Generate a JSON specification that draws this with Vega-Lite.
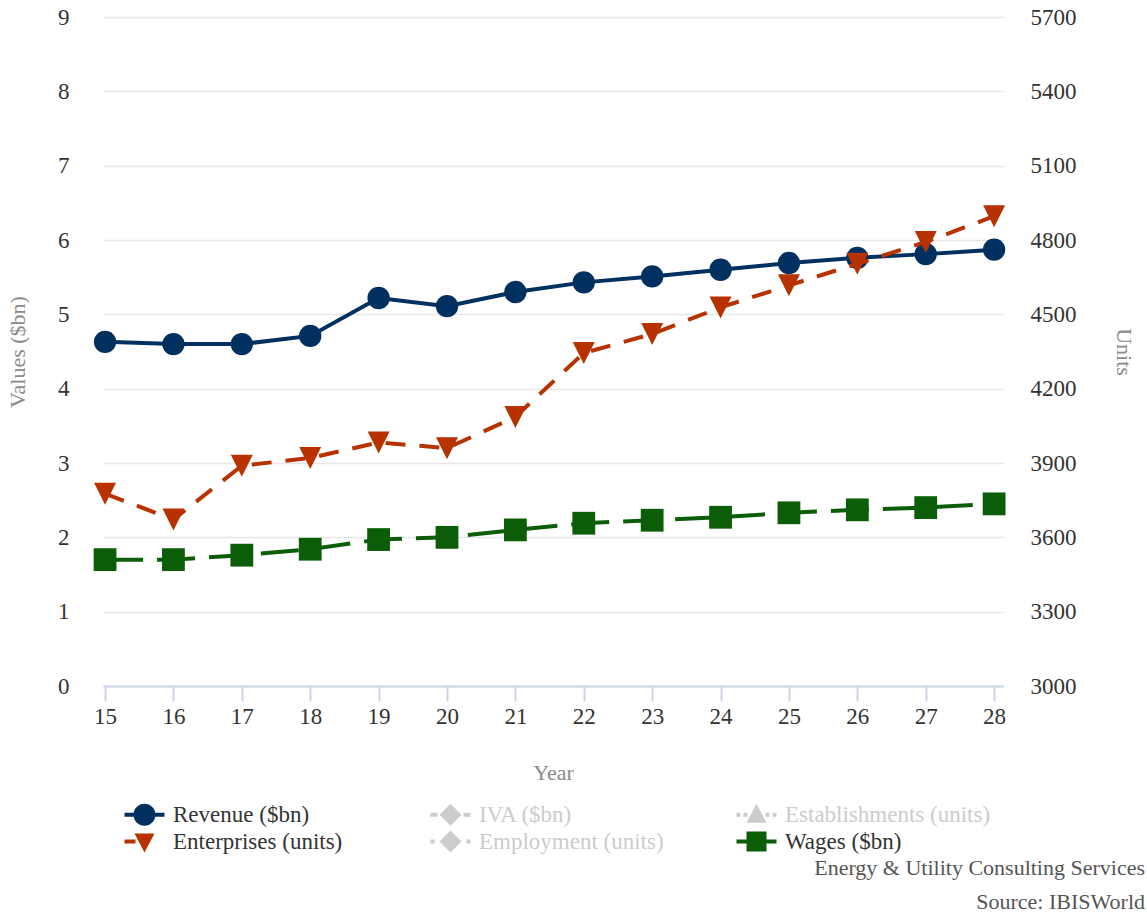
{
  "$schema": "https://vega.github.io/schema/vega-lite/v6.json",
  "width": 900,
  "height": 669,
  "autosize": {"type": "none"},
  "padding": {"left": 103, "top": 17, "right": 144, "bottom": 228},
  "background": "#ffffff",
  "config": {
    "view": {"fill": "#f8f8f8", "stroke": null},
    "font": "Liberation Serif",
    "axis": {"labelFont": "Liberation Serif", "titleFont": "Liberation Serif", "labelFontSize": 23, "titleFontSize": 22, "titleFontWeight": "normal", "labelColor": "#333333", "titleColor": "#8a8a8a"}
  },
  "title": {
    "text": "Energy & Utility Consulting Services",
    "subtitle": "Source: IBISWorld",
    "orient": "bottom",
    "anchor": "end",
    "frame": "group",
    "font": "Liberation Serif",
    "subtitleFont": "Liberation Serif",
    "fontSize": 22,
    "subtitleFontSize": 22,
    "fontWeight": "normal",
    "color": "#555555",
    "subtitleColor": "#555555",
    "subtitlePadding": 12,
    "dx": 142,
    "offset": 4
  },
  "datasets": {
    "main": [
      {"year": 15, "series": "Revenue ($bn)", "value": 4.63},
      {"year": 16, "series": "Revenue ($bn)", "value": 4.60},
      {"year": 17, "series": "Revenue ($bn)", "value": 4.60},
      {"year": 18, "series": "Revenue ($bn)", "value": 4.71},
      {"year": 19, "series": "Revenue ($bn)", "value": 5.22},
      {"year": 20, "series": "Revenue ($bn)", "value": 5.11},
      {"year": 21, "series": "Revenue ($bn)", "value": 5.30},
      {"year": 22, "series": "Revenue ($bn)", "value": 5.43},
      {"year": 23, "series": "Revenue ($bn)", "value": 5.51},
      {"year": 24, "series": "Revenue ($bn)", "value": 5.60},
      {"year": 25, "series": "Revenue ($bn)", "value": 5.69},
      {"year": 26, "series": "Revenue ($bn)", "value": 5.76},
      {"year": 27, "series": "Revenue ($bn)", "value": 5.81},
      {"year": 28, "series": "Revenue ($bn)", "value": 5.87},
      {"year": 15, "series": "Wages ($bn)", "value": 1.70},
      {"year": 16, "series": "Wages ($bn)", "value": 1.70},
      {"year": 17, "series": "Wages ($bn)", "value": 1.76},
      {"year": 18, "series": "Wages ($bn)", "value": 1.84},
      {"year": 19, "series": "Wages ($bn)", "value": 1.97},
      {"year": 20, "series": "Wages ($bn)", "value": 2.00},
      {"year": 21, "series": "Wages ($bn)", "value": 2.10},
      {"year": 22, "series": "Wages ($bn)", "value": 2.19},
      {"year": 23, "series": "Wages ($bn)", "value": 2.23},
      {"year": 24, "series": "Wages ($bn)", "value": 2.27},
      {"year": 25, "series": "Wages ($bn)", "value": 2.33},
      {"year": 26, "series": "Wages ($bn)", "value": 2.37},
      {"year": 27, "series": "Wages ($bn)", "value": 2.40},
      {"year": 28, "series": "Wages ($bn)", "value": 2.45},
      {"year": 15, "series": "Enterprises (units)", "value": 3776},
      {"year": 16, "series": "Enterprises (units)", "value": 3672},
      {"year": 17, "series": "Enterprises (units)", "value": 3889},
      {"year": 18, "series": "Enterprises (units)", "value": 3920},
      {"year": 19, "series": "Enterprises (units)", "value": 3983},
      {"year": 20, "series": "Enterprises (units)", "value": 3960},
      {"year": 21, "series": "Enterprises (units)", "value": 4086},
      {"year": 22, "series": "Enterprises (units)", "value": 4344},
      {"year": 23, "series": "Enterprises (units)", "value": 4421},
      {"year": 24, "series": "Enterprises (units)", "value": 4528},
      {"year": 25, "series": "Enterprises (units)", "value": 4617},
      {"year": 26, "series": "Enterprises (units)", "value": 4704},
      {"year": 27, "series": "Enterprises (units)", "value": 4792},
      {"year": 28, "series": "Enterprises (units)", "value": 4896}
    ],
    "legendItems": [
      {"item": "Revenue ($bn)"},
      {"item": "IVA ($bn)"},
      {"item": "Establishments (units)"},
      {"item": "Enterprises (units)"},
      {"item": "Employment (units)"},
      {"item": "Wages ($bn)"}
    ]
  },
  "layer": [
    {
      "data": {"name": "main"},
      "encoding": {
        "x": {"field": "year", "type": "quantitative", "scale": {"domain": [14.97, 28.13], "nice": false, "zero": false},
          "axis": {"title": "Year", "values": [15,16,17,18,19,20,21,22,23,24,25,26,27,28], "format": "d", "grid": false, "domainColor": "#ccd6eb", "domainWidth": 2, "tickColor": "#ccd6eb", "tickWidth": 2, "tickSize": 15, "labelPadding": 4, "titlePadding": 34}},
        "y": {"field": "value", "type": "quantitative", "scale": {"domain": [0, 9], "nice": false, "zero": false},
          "axis": {"orient": "left", "title": "Values ($bn)", "values": [0,1,2,3,4,5,6,7,8,9], "format": "d", "grid": true, "gridColor": "#e6e6e6", "gridWidth": 1.5, "domain": false, "ticks": false, "labelPadding": 34, "titlePadding": 28}}
      },
      "layer": [
        {"transform": [{"filter": "datum.series == 'Revenue ($bn)'"}], "mark": {"type": "line", "color": "#00305f", "strokeWidth": 4}},
        {"transform": [{"filter": "datum.series == 'Revenue ($bn)'"}], "mark": {"type": "point", "shape": "circle", "filled": true, "size": 500, "color": "#00305f", "opacity": 1}},
        {"transform": [{"filter": "datum.series == 'Wages ($bn)'"}], "mark": {"type": "line", "color": "#0b5e07", "strokeWidth": 4, "strokeDash": [38, 14]}},
        {"transform": [{"filter": "datum.series == 'Wages ($bn)'"}], "mark": {"type": "point", "shape": "square", "filled": true, "size": 520, "color": "#0b5e07", "opacity": 1}}
      ]
    },
    {
      "data": {"name": "main"},
      "transform": [{"filter": "datum.series == 'Enterprises (units)'"}],
      "encoding": {
        "x": {"field": "year", "type": "quantitative"},
        "y": {"field": "value", "type": "quantitative", "scale": {"domain": [3000, 5700], "nice": false, "zero": false},
          "axis": {"orient": "right", "title": "Units", "values": [3000,3300,3600,3900,4200,4500,4800,5100,5400,5700], "format": "d", "grid": false, "domain": false, "ticks": false, "labelPadding": 27, "titlePadding": 35}}
      },
      "layer": [
        {"mark": {"type": "line", "color": "#b83200", "strokeWidth": 4, "strokeDash": [20, 14]}},
        {"mark": {"type": "point", "shape": "M-1,-1L1,-1L0,1Z", "filled": true, "size": 484, "color": "#b83200", "opacity": 1}}
      ]
    },
    {
      "data": {"name": "legendItems"},
      "transform": [{"filter": "false"}],
      "mark": {"type": "point", "filled": true, "opacity": 1},
      "encoding": {
        "color": {"field": "item", "type": "nominal",
          "scale": {"domain": ["Revenue ($bn)", "IVA ($bn)", "Establishments (units)", "Enterprises (units)", "Employment (units)", "Wages ($bn)"],
                    "range": ["#00305f", "#cccccc", "#cccccc", "#b83200", "#cccccc", "#0b5e07"]},
          "legend": {"title": null, "orient": "none", "legendX": 30, "legendY": 786, "direction": "horizontal", "columns": 3, "gridAlign": "all", "symbolSize": 400, "symbolStrokeWidth": 0, "symbolOpacity": 1, "labelFont": "Liberation Serif", "labelFontSize": 23, "labelColor": "#333333", "labelOffset": 17, "labelLimit": 400, "columnPadding": 51, "rowPadding": 3, "padding": 0,
            "encode": {"labels": {"update": {"fill": {"signal": "indexof(['IVA ($bn)', 'Establishments (units)', 'Employment (units)'], datum.label) >= 0 ? '#cccccc' : '#333333'"}}}}}},
        "shape": {"field": "item", "type": "nominal",
          "scale": {"domain": ["Revenue ($bn)", "IVA ($bn)", "Establishments (units)", "Enterprises (units)", "Employment (units)", "Wages ($bn)"],
                    "range": [
                      "M-2,-0.2H2V0.2H-2Z M1.1,0A1.1,1.1,0,1,1,-1.1,0A1.1,1.1,0,1,1,1.1,0Z",
                      "M-2,-0.2H-1.3V0.2H-2Z M1.3,-0.2H2V0.2H1.3Z M0,-1.1L1.1,0L0,1.1L-1.1,0Z",
                      "M-2,-0.2H-1.6V0.2H-2Z M-1.3,-0.2H-0.9V0.2H-1.3Z M0.9,-0.2H1.3V0.2H0.9Z M1.6,-0.2H2V0.2H1.6Z M0,-1.1L1,0.8L-1,0.8Z",
                      "M-2,-0.2H-0.9V0.2H-2Z M-1,-0.8L1,-0.8L0,1.1Z",
                      "M-2,-0.2H-1.6V0.2H-2Z M1.6,-0.2H2V0.2H1.6Z M0,-1.1L1.1,0L0,1.1L-1.1,0Z",
                      "M-2,-0.2H2V0.2H-2Z M-1,-1H1V1H-1Z"
                    ]}}
      }
    }
  ],
  "resolve": {"scale": {"y": "independent"}}
}
